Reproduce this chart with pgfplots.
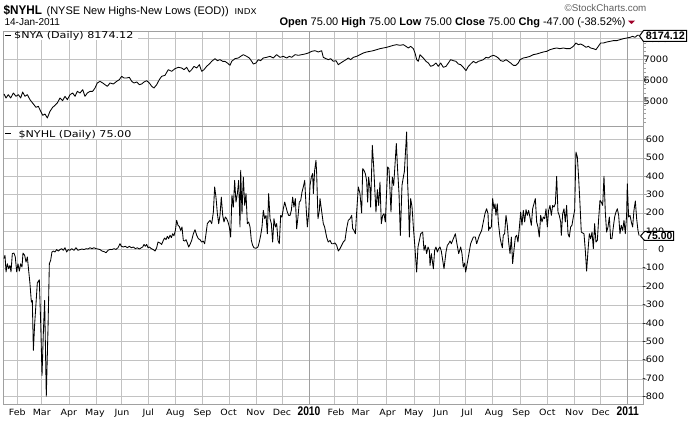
\documentclass[border=0pt]{standalone}
\usepackage{fontspec}
\setmainfont{DejaVu Sans}
\newfontfamily\verd[FakeStretch=1.1]{DejaVu Sans}
\newfontfamily\verdw[FakeStretch=1.2]{DejaVu Sans}
\newfontfamily\lib{Liberation Sans}
\newfontfamily\titlefont[FakeStretch=0.93]{Liberation Sans}
\newfontfamily\narrowb[FakeStretch=0.82]{Liberation Sans}
\usepackage{pgfplots}
\pgfplotsset{compat=1.18}
\definecolor{gridc}{HTML}{C2C2C2}
\definecolor{yearc}{HTML}{A0A0A0}
\definecolor{framec}{HTML}{A0A0A0}
\definecolor{chgred}{HTML}{A00028}
\definecolor{copyc}{HTML}{606060}

\pgfplotstableread{
d v
15.8 5352
18.1 5160
20.7 5320
23.4 5160
26.5 5400
29.5 5240
32.2 5320
34.9 5160
37.1 5448
39.8 5240
42.5 5320
45.5 5080
49.4 4872
52.4 4712
55.1 4760
57.8 4520
60.1 4328
62.7 4392
65.4 4200
68.4 4520
71.5 4712
74.2 4808
76.8 4920
79.9 5160
82.9 5032
85.6 5240
88.3 5080
91.4 5320
94.4 5400
97.1 5240
99.7 5480
102.8 5400
105.9 5560
108.5 5240
111.2 5400
114.3 5480
117.3 5480
120.0 5640
122.6 5880
125.7 5960
128.8 5880
131.4 5800
134.1 5720
137.2 5880
141.0 5832
144.8 5960
147.8 6040
150.5 6200
153.2 6120
156.2 6120
159.3 6152
162.0 5960
164.6 5880
167.7 5928
170.7 5800
173.4 5832
176.1 5928
179.1 5992
182.2 5880
184.9 5720
187.5 5640
190.6 5800
193.6 6040
196.3 6200
200.1 6248
203.9 6520
207.8 6440
211.6 6568
215.4 6632
219.2 6600
221.9 6520
224.9 6632
228.0 6408
230.7 6520
233.3 6680
236.4 6600
239.5 6760
242.1 6440
244.8 6520
247.8 6680
250.9 6792
253.6 6920
257.4 7048
260.1 6952
263.1 7000
266.2 6920
268.8 6920
271.5 6840
274.6 6728
276.5 6920
280.3 7048
284.1 7080
286.8 7160
289.8 7240
293.6 7160
296.7 7080
299.4 6920
301.3 6792
304.3 6840
307.0 7000
309.7 6952
312.7 7080
316.5 7112
320.4 7160
324.2 7080
328.0 7240
331.8 7112
335.6 7160
339.5 7080
342.5 7160
345.2 7112
349.0 7240
352.8 7208
356.6 7240
360.5 7272
364.3 7320
368.1 7400
371.9 7432
375.7 7368
379.5 7432
381.4 7112
384.5 7048
387.1 7000
389.8 7048
392.9 6920
395.9 6952
398.6 6760
401.3 6840
404.3 6920
407.4 7000
410.0 7080
412.7 7000
415.8 7112
419.6 7160
423.4 7240
427.2 7320
431.0 7368
434.9 7400
438.7 7432
442.5 7480
446.3 7528
450.1 7560
453.9 7592
457.8 7640
461.6 7688
465.4 7720
469.2 7688
473.0 7720
476.1 7640
478.8 7560
481.4 7640
484.5 7528
486.4 7320
488.3 7000
490.2 6920
492.1 7240
495.9 7080
499.0 6920
501.7 6840
504.3 6680
507.4 6728
510.4 6840
513.1 6680
515.8 6840
518.8 6632
521.9 6680
524.6 6840
527.2 7000
530.3 6952
533.3 6920
536.0 6792
538.7 6760
541.7 6632
544.8 6472
547.5 6680
550.1 6792
553.2 6920
556.2 6840
558.9 6920
561.6 6952
564.6 7000
567.7 7112
570.4 7080
573.0 7160
576.1 7208
579.1 7160
581.8 7080
584.5 6952
587.5 6920
590.6 7000
593.3 6920
595.9 6840
599.0 6728
602.0 6728
604.7 6840
606.6 7000
610.4 7080
614.3 7112
618.1 7160
621.9 7240
625.7 7272
629.5 7320
633.3 7368
637.2 7400
641.0 7480
644.8 7528
648.6 7560
652.4 7528
656.2 7560
660.1 7528
663.9 7528
667.7 7640
670.7 7800
673.4 7720
676.1 7752
679.1 7688
682.2 7592
684.9 7640
687.5 7560
690.6 7528
693.6 7480
696.3 7640
699.0 7800
702.1 7800
705.9 7848
709.7 7880
713.5 7912
717.3 7912
721.1 7960
725.0 8008
728.8 8040
732.6 8072
735.6 8120
738.3 8072
741.0 8168
743.0 8174.12
}\nyatable

\pgfplotstableread{
d v
15.8 -50
16.9 -32
18.1 -122
19.6 -78
21.1 -105
22.6 -87
23.8 -122
25.3 -23
27.2 -20
28.7 -41
30.3 -122
31.8 -78
33.3 -118
34.9 -78
36.4 -96
37.5 -20
39.4 -32
41.0 -69
42.5 -41
44.0 -114
45.5 -186
47.1 -286
48.2 -277
49.4 -549
50.9 -404
52.4 -295
53.9 -183
56.2 -165
57.8 -404
59.3 -685
60.8 -458
62.3 -277
64.2 -798
66.2 -422
67.7 -78
69.2 -59
70.7 -14
72.3 -9
74.2 -14
76.1 -1
78.0 -9
79.9 -1
81.8 4
83.7 -5
85.6 9
87.5 -14
89.4 -1
91.3 -5
93.3 4
95.9 -5
98.2 9
100.5 -5
102.8 -1
105.1 2
107.4 -1
109.7 4
112.0 2
114.2 9
116.5 4
118.8 9
121.1 4
123.4 2
125.7 -1
128.0 -9
130.3 -12
132.6 -18
134.9 -5
137.2 0
139.4 -1
141.7 4
144.0 0
146.3 9
148.6 31
150.1 17
152.4 13
154.7 17
157.0 9
159.3 17
161.6 9
163.9 13
166.2 4
168.4 9
170.7 2
173.0 9
174.6 13
176.1 27
177.6 17
179.1 27
180.7 9
182.2 13
184.5 4
186.8 -1
188.7 -9
190.6 9
192.1 40
194.4 35
196.3 27
198.2 49
199.7 62
201.3 53
202.8 71
204.3 58
205.9 77
207.4 64
208.9 85
210.4 74
212.0 103
213.5 158
215.0 131
216.5 125
218.1 103
219.6 122
221.1 49
222.6 45
224.2 53
225.7 35
227.2 13
228.8 27
230.7 49
232.6 85
234.5 107
236.4 77
238.3 58
240.2 53
242.1 40
244.0 45
245.5 31
247.1 85
248.6 140
250.1 149
251.7 158
253.6 140
255.5 203
257.0 339
258.5 284
260.1 194
261.6 140
263.1 185
264.6 284
266.2 185
267.7 149
269.2 176
270.7 167
272.3 149
273.8 122
275.3 67
276.8 294
278.4 230
279.9 375
281.4 257
283.0 303
284.5 375
286.0 122
286.8 430
288.3 194
289.8 393
291.4 239
292.9 303
294.4 140
295.9 149
297.5 122
299.0 49
300.5 22
302.0 9
304.3 6
306.6 13
308.1 40
309.7 77
311.2 122
312.7 212
314.3 167
315.8 185
317.3 85
318.8 303
320.4 167
321.9 140
323.4 40
324.9 167
326.5 122
328.0 140
329.5 49
331.0 31
332.6 185
334.1 176
335.6 221
337.2 257
338.7 230
340.2 203
341.7 185
343.3 185
344.8 212
346.3 284
347.8 230
349.4 276
350.9 112
352.4 176
353.9 257
355.5 266
357.0 312
358.5 339
360.1 375
361.6 239
363.1 122
364.6 194
366.2 348
367.7 393
369.2 412
370.0 303
371.5 430
373.0 484
373.8 412
375.3 167
376.9 212
377.6 276
381.4 140
382.9 122
385.2 67
387.1 40
389.1 49
391.0 31
392.9 31
394.8 35
396.7 22
398.6 -9
400.5 4
402.4 22
404.3 40
406.2 49
408.1 113
410.0 158
412.0 167
413.9 185
415.0 113
416.5 103
418.1 85
419.6 203
421.5 339
423.4 303
425.3 198
426.5 439
428.0 430
429.5 412
431.0 375
432.2 257
433.3 393
434.9 330
435.6 230
437.5 566
439.1 448
440.6 303
441.7 203
443.3 325
444.8 239
446.3 366
447.8 140
449.4 185
450.9 194
452.4 149
455.1 448
456.6 439
458.9 203
460.4 393
462.0 348
465.0 575
466.5 430
468.1 303
469.6 76
471.5 348
473.4 403
474.2 421
476.8 638
478.0 357
479.1 230
479.9 67
481.4 276
483.0 230
484.5 122
486.0 31
488.3 -123
489.8 13
491.4 49
492.9 85
495.2 94
496.7 -5
498.2 22
499.7 -23
501.3 13
502.8 -5
503.6 -87
505.1 -23
507.4 -105
508.9 -5
510.4 13
512.0 -14
513.5 4
515.0 13
516.5 -9
519.6 -105
521.9 -14
523.4 22
524.9 31
526.5 46
528.0 31
530.3 58
532.6 85
534.1 40
536.4 -23
538.7 13
540.2 -23
541.7 -96
543.3 -74
544.4 -123
547.5 -41
550.1 31
553.2 67
555.5 67
557.0 31
560.1 76
562.7 103
564.6 149
566.5 194
568.4 221
570.0 194
570.7 103
571.5 122
572.3 113
573.8 122
575.3 276
576.8 221
578.0 248
579.1 185
580.6 248
581.8 149
583.7 67
585.2 31
586.4 9
587.5 77
589.0 85
590.6 185
592.1 131
593.6 40
595.2 -23
596.7 67
598.2 -77
599.7 -5
601.3 67
602.8 77
604.3 40
605.8 113
607.4 203
608.9 131
610.4 212
612.0 149
613.5 216
615.0 185
616.5 212
618.1 172
619.6 131
621.1 221
622.6 248
624.2 276
625.7 149
627.2 122
628.7 67
630.3 185
631.8 149
633.3 176
634.9 167
636.4 221
637.9 122
639.4 212
641.0 239
642.5 185
644.0 239
645.5 230
647.1 248
648.6 397
650.1 203
651.6 185
653.2 149
653.9 76
655.5 194
657.0 221
658.5 149
660.0 239
661.6 85
663.1 67
664.6 122
666.1 131
667.7 176
669.2 212
670.7 529
672.3 502
673.8 385
675.3 248
676.8 94
678.4 89
679.9 85
681.4 -5
682.9 -118
684.5 -5
686.0 85
687.5 58
689.1 94
690.6 4
692.1 140
693.6 40
695.2 49
696.7 167
698.2 266
699.7 257
701.3 239
702.8 397
704.3 203
705.8 94
707.4 122
708.9 176
710.4 58
711.9 58
713.5 122
715.0 176
716.5 203
718.1 221
719.6 185
721.1 85
722.6 131
724.2 103
725.7 158
727.2 85
728.7 185
729.5 357
731.0 176
732.6 185
734.1 149
735.6 122
737.1 212
738.7 263
740.2 167
741.7 103
743.0 75
}\nyhltable

\pgfplotsset{
  panel/.style={
    scale only axis, width=640pt,
    xmin=15.2, xmax=748.05,
    axis line style={draw=framec, line width=1pt},
    xtick={31,59,90,120,151,181,212,243,273,304,334,365,396,424,455,485,516,546,577,608,638,669,699,730},
    ytick pos=right, yticklabel pos=right,
    major tick length=0pt, tick style={draw=none},
    yticklabel style={font=\verd\fontsize{8.8}{10}\selectfont, anchor=east, inner sep=0pt},
  },
  dataline/.style={black, line width=0.85pt, line join=round, no marks},
}

\begin{document}
\begin{tikzpicture}[x=1pt,y=1pt]
\useasboundingbox (0,0) rectangle (690,420);
\fill[white] (0,0) rectangle (690,420);

% grid lines on the pixel grid (1pt = 1px; y counted from the top of the picture)
\foreach \c in {17,41,69,96,121,148,175,202,229,256,282,334,357,386,414,439,465,492,520,547,574,600}
  \draw[gridc, line width=1.2pt] (\c+0.5,15.5) -- (\c+0.5,388.5);
\foreach \r in {38,59,80,101,139,158,176,194,213,231,249,268,286,305,323,341,360,379,396}
  \draw[gridc, line width=1.2pt] (3.5,420-\r-0.5) -- (643.5,420-\r-0.5);
\foreach \c in {309,627}
  \draw[yearc, line width=1.2pt] (\c+0.5,15.5) -- (\c+0.5,388.5);
% right-hand tick marks
\foreach \r in {38,59,80,101,139,158,176,194,213,231,249,268,286,305,323,341,360,379,396}
  \draw[framec, line width=1pt] (643.5,420-\r-0.5) -- (646.5,420-\r-0.5);
\foreach \r in {34,43,47,51,55,63,68,72,76,84,88,93,97,105,109,113,118,122}
  \draw[framec, line width=1pt] (643.5,420-\r-0.5) -- (645.5,420-\r-0.5);

% top panel
\begin{axis}[panel, at={(3.5pt,293.5pt)}, anchor=south west, height=95pt,
  ymin=3792, ymax=8352,
  ytick={5000,6000,7000,8000}, yticklabels={5000,6000,7000,8000},
  xticklabels={},
  yticklabel style={xshift=25pt}]
\addplot[dataline] table[x=d,y=v] {\nyatable};
\end{axis}

% bottom panel
\begin{axis}[panel, at={(3.5pt,15.5pt)}, anchor=south west, height=278pt,
  ymin=-843, ymax=668,
  ytick={-800,-700,-600,-500,-400,-300,-200,-100,0,100,200,300,400,500,600},
  yticklabels={-800,-700,-600,-500,-400,-300,-200,-100,0,100,200,300,400,500,600},
  yticklabel style={xshift=21pt},
  xticklabels={Feb,Mar,Apr,May,Jun,Jul,Aug,Sep,Oct,Nov,Dec,{\narrowb\bfseries\fontsize{12.5}{12.5}\selectfont 2010},Feb,Mar,Apr,May,Jun,Jul,Aug,Sep,Oct,Nov,Dec,{\narrowb\bfseries\fontsize{12.5}{12.5}\selectfont 2011}},
  xticklabel style={font=\verd\fontsize{8.6}{10}\selectfont, anchor=base, inner sep=0pt, yshift=-11pt}]
\addplot[dataline] table[x=d,y=v] {\nyhltable};
\end{axis}

% header
\node[anchor=base west, inner sep=0pt, font=\titlefont\bfseries\fontsize{12.6}{14}\selectfont] at (3.5,405) {\$NYHL};
\node[anchor=base west, inner sep=0pt, font=\lib\fontsize{11}{13}\selectfont] at (46.4,405.5) {(NYSE New Highs-New Lows (EOD))};
\node[anchor=base west, inner sep=0pt, font=\verd\fontsize{8}{10}\selectfont] at (234.4,405.5) {INDX};
\node[anchor=base west, inner sep=0pt, font=\lib\fontsize{10}{12}\selectfont] at (4.4,394) {14-Jan-2011};
\node[anchor=base east, inner sep=0pt, font=\lib\fontsize{11}{13}\selectfont] at (625.8,394) {\textbf{Open} 75.00 \textbf{High} 75.00 \textbf{Low} 75.00 \textbf{Close} 75.00 \textbf{Chg} -47.00 (-38.52\%)};
\fill[chgred] (628,399.3) -- (635,399.3) -- (631.5,396) -- cycle;
\node[anchor=base east, inner sep=0pt, font=\lib\fontsize{9.8}{12}\selectfont, text=copyc] at (646.6,408.3) {©StockCharts.com};

% panel legends
\fill[white] (4,379.5) rectangle (138,388);
\fill[black] (4.5,383.7) rectangle (11,385.3);
\node[anchor=base west, inner sep=0pt, font=\verdw\fontsize{9.3}{11}\selectfont] at (14,381.3) {\$NYA (Daily) 8174.12};
\fill[white] (4,280.5) rectangle (131,293);
\fill[black] (4.5,285.7) rectangle (11,287.3);
\node[anchor=base west, inner sep=0pt, font=\verdw\fontsize{9.3}{11}\selectfont] at (18.3,282.3) {\$NYHL (Daily) 75.00};

% value tags
\draw[fill=white, line width=1pt, line join=miter] (639.5,384) -- (643.5,389.5) -- (686.5,389.5) -- (686.5,378.5) -- (643.5,378.5) -- cycle;
\node[inner sep=0pt, font=\lib\bfseries\fontsize{10.8}{12}\selectfont] at (665.3,384.1) {8174.12};
\draw[fill=white, line width=1pt, line join=miter] (640.5,184) -- (644.5,188.5) -- (673.5,188.5) -- (673.5,179.5) -- (644.5,179.5) -- cycle;
\node[inner sep=0pt, font=\lib\bfseries\fontsize{10.4}{12}\selectfont] at (659.3,183.8) {75.00};
\end{tikzpicture}
\end{document}
